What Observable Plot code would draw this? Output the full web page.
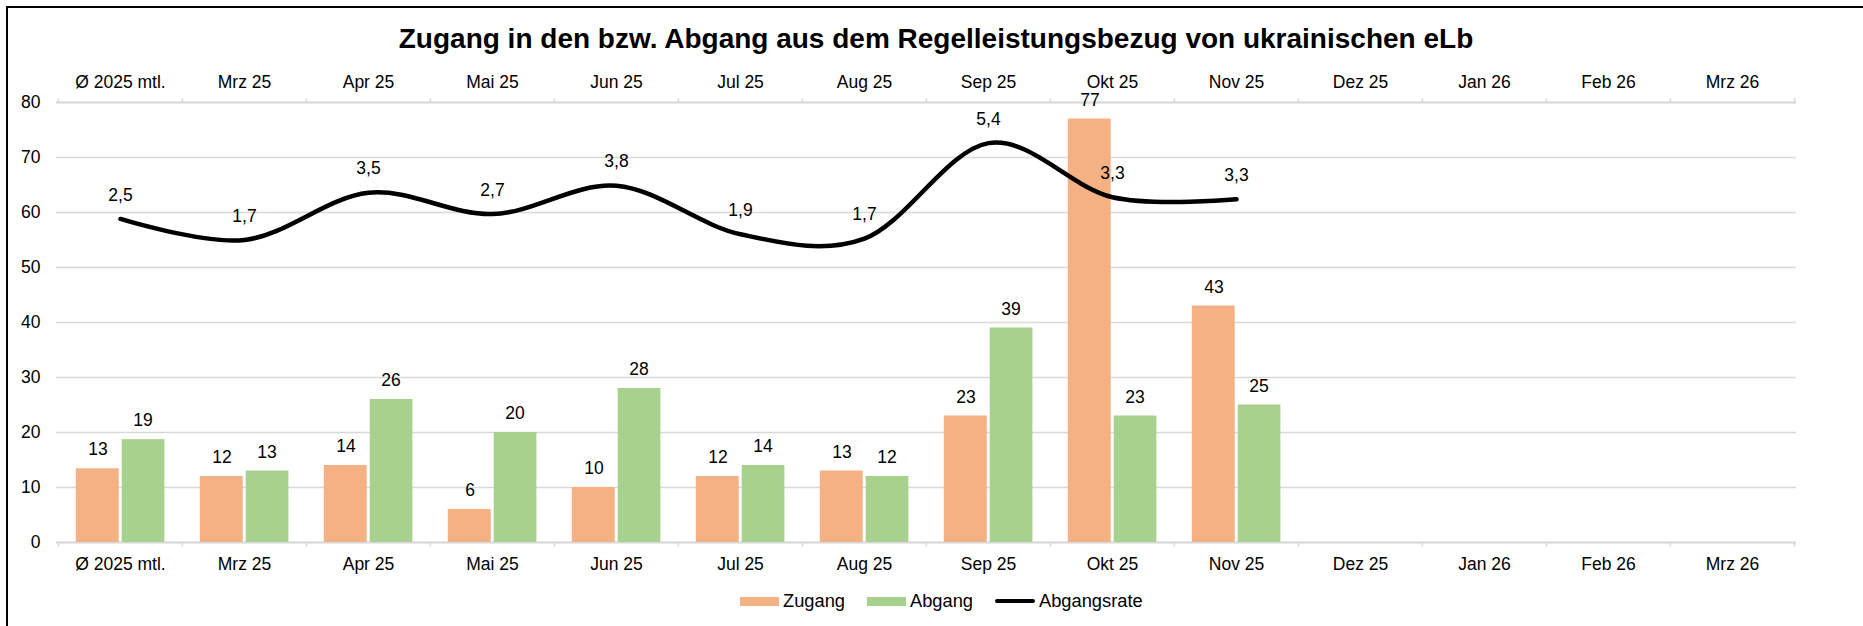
<!DOCTYPE html>
<html><head><meta charset="utf-8">
<script src="https://cdn.jsdelivr.net/npm/d3@7"></script>
<script src="https://cdn.jsdelivr.net/npm/@observablehq/plot@0.6"></script>
<style>
body{margin:0;background:#fff;font-family:"Liberation Sans",Arial,sans-serif;color:#000;}
#wrap{position:relative;width:1863px;height:626px;overflow:hidden;background:#fff;}
#frame{position:absolute;left:6px;top:6px;width:3000px;height:3000px;border-top:2px solid #000;border-left:2px solid #000;}
#title{position:absolute;top:25px;left:0;width:1872px;text-align:center;font-size:28px;font-weight:bold;line-height:28px;white-space:nowrap;}
#chart{position:absolute;left:0;top:0;}
#legend{position:absolute;left:0;top:592px;width:1863px;height:20px;font-size:18.3px;line-height:18px;white-space:nowrap;}
.sw{display:inline-block;width:39px;height:9px;margin-right:4px;}
.ln{display:inline-block;width:40px;height:4px;background:#000;border-radius:2px;margin-right:4px;}
.item{position:absolute;top:0;display:flex;align-items:center;}
</style>
</head><body>
<div id="wrap">
  <div id="frame"></div>
  <div id="chart"></div>
  <div id="title">Zugang in den bzw. Abgang aus dem Regelleistungsbezug von ukrainischen eLb</div>
  <div id="legend"></div>
</div>
<script>
const categories = ["Ø 2025 mtl.","Mrz 25","Apr 25","Mai 25","Jun 25","Jul 25","Aug 25","Sep 25","Okt 25","Nov 25","Dez 25","Jan 26","Feb 26","Mrz 26"];
const zugang = [13.4, 12, 14, 6, 10, 12, 13, 23, 77, 43];
const abgang = [18.7, 13, 26, 20, 28, 14, 12, 39, 23, 25];
const abgangsrate = [2.5, 1.69, 3.51, 2.69, 3.78, 1.91, 1.74, 5.43, 3.34, 3.26];
const yTicks = [0, 10, 20, 30, 40, 50, 60, 70, 80];
const seriesNames = ["Zugang", "Abgang", "Abgangsrate"];
const seriesColors = ["#F4B183", "#A9D18E", "#000000"];
const legendLeft = [740, 867, 995];

const rows = zugang.map((v, i) => ({cat: categories[i], zugang: v, abgang: abgang[i], rate: abgangsrate[i]}));
const y2 = d3.scaleLinear().domain([-10, 7]).range([0, 80]); // hidden secondary axis
const fmtRate = v => v.toFixed(1).replace(".", ",");

const W = 1863, H = 600, mL = 56, mR = 67;
const step = (W - mL - mR) / categories.length;
const last = [categories[categories.length - 1]];
const tickStyle = {stroke: "#d9d9d9", strokeWidth: 1.5};

const chart = Plot.plot({
  width: W, height: H,
  marginLeft: mL, marginRight: mR, marginTop: 102, marginBottom: 58,
  style: {fontFamily: "'Liberation Sans', Arial, sans-serif", fontSize: "17.5px", color: "#000", background: "transparent"},
  x: {domain: categories, padding: 0, label: null},
  y: {domain: [0, 80], label: null},
  marks: [
    Plot.gridY(yTicks, {stroke: "#d9d9d9", strokeOpacity: 1, strokeWidth: 1.3}),
    Plot.ruleY([0, 80], {stroke: "#d9d9d9", strokeWidth: 2}),
    Plot.ruleX(categories, {x: d => d, y1: 0, y2: -0.8, dx: -step / 2, ...tickStyle}),
    Plot.ruleX(last, {x: d => d, y1: 0, y2: -0.8, dx: step / 2, ...tickStyle}),
    Plot.ruleX(categories, {x: d => d, y1: 80, y2: 80.7, dx: -step / 2, ...tickStyle}),
    Plot.ruleX(last, {x: d => d, y1: 80, y2: 80.7, dx: step / 2, ...tickStyle}),
    Plot.axisY(yTicks, {tickSize: 0, tickPadding: 16, label: null}),
    Plot.axisX({anchor: "top", tickSize: 0, tickPadding: 15, label: null}),
    Plot.axisX({anchor: "bottom", tickSize: 0, tickPadding: 15, label: null}),
    Plot.barY(rows, {x: "cat", y: "zugang", fill: seriesColors[0], insetLeft: 17.8, insetRight: 63.3}),
    Plot.barY(rows, {x: "cat", y: "abgang", fill: seriesColors[1], insetLeft: 63.7, insetRight: 17.6}),
    Plot.text(rows, {x: "cat", y: "zugang", text: d => String(Math.round(d.zugang)), dx: -22.5, dy: -19, fill: "#000"}),
    Plot.text(rows, {x: "cat", y: "abgang", text: d => String(Math.round(d.abgang)), dx: 22.5, dy: -19, fill: "#000"}),
    Plot.line(rows, {x: "cat", y: d => y2(d.rate), curve: "cardinal", stroke: seriesColors[2], strokeWidth: 4.5, strokeLinecap: "round", strokeLinejoin: "round"}),
    Plot.text(rows, {x: "cat", y: d => y2(d.rate), text: d => fmtRate(d.rate), dy: -24, fill: "#000"})
  ]
});
document.getElementById("chart").appendChild(chart);

const legend = document.getElementById("legend");
seriesNames.forEach((name, i) => {
  const item = document.createElement("div");
  item.className = "item";
  item.style.left = legendLeft[i] + "px";
  const sw = document.createElement("span");
  if (i < 2) { sw.className = "sw"; sw.style.background = seriesColors[i]; }
  else { sw.className = "ln"; }
  item.appendChild(sw);
  const t = document.createElement("span");
  t.textContent = name;
  item.appendChild(t);
  legend.appendChild(item);
});
</script>
</body></html>
